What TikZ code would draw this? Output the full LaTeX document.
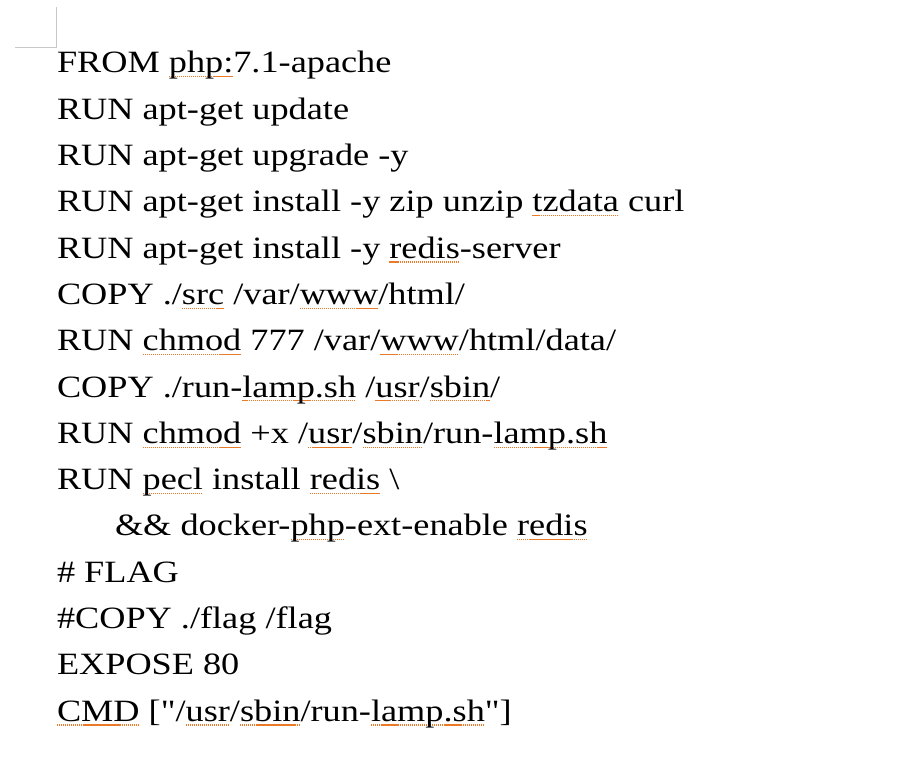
\documentclass[tikz,border=0pt]{standalone}
\usepackage{fontspec}
\setmainfont[FakeStretch=1.17, Ligatures=TeXOff]{Liberation Serif}
\usepackage{tikz}
\usetikzlibrary{matrix}

\definecolor{typo}{HTML}{EB7A28}
\definecolor{margin}{HTML}{C8C8C8}
\newsavebox{\typobox}
\newcommand{\typo}[1]{\leavevmode\sbox{\typobox}{#1}%
  \rlap{\hbox to\wd\typobox{\xleaders\hbox{{\color{typo}\rule[-4.4pt]{1.3pt}{1.1pt}}\hspace{0.7pt}}\hfil}}%
  \usebox{\typobox}}

\begin{document}
\begin{tikzpicture}
 \useasboundingbox (0,0) rectangle (907pt,781pt);
 % page corner mark
 \coordinate (c1) at (15pt,733pt);
 \coordinate (c2) at (56pt,733pt);
 \coordinate (c3) at (56pt,774pt);
 \draw[margin, line width=1pt] (c1) -- (c2) -- (c3);
 \matrix (m) [matrix of nodes, row sep=14.3pt, inner sep=0pt, outer sep=0pt,
   anchor=north west, nodes={anchor=base west, inner sep=0pt, text height=23pt, text depth=9pt,
   font=\fontsize{31}{36}\selectfont}] at (57pt,731pt)
  {
    FROM \typo{php:}7.1-apache \\
    RUN apt-get update \\
    RUN apt-get upgrade -y \\
    RUN apt-get install -y zip unzip \typo{tzdata} curl \\
    RUN apt-get install -y \typo{redis}-server \\
    COPY ./\typo{src} /var/\typo{www}/html/ \\
    RUN \typo{chmod} 777 /var/\typo{www}/html/data/ \\
    COPY ./run-\typo{lamp.sh} /\typo{usr}/\typo{sbin}/ \\
    RUN \typo{chmod} +x /\typo{usr}/\typo{sbin}/run-\typo{lamp.sh} \\
    RUN \typo{pecl} install \typo{redis} \textbackslash \\
    \hspace{58pt}\&\& docker-\typo{php}-ext-enable \typo{redis} \\
    \# FLAG \\
    \#COPY ./flag /flag \\
    EXPOSE 80 \\
    \typo{CMD} ["/\typo{usr}/\typo{sbin}/run-\typo{lamp.sh}"] \\
  };
\end{tikzpicture}
\end{document}
